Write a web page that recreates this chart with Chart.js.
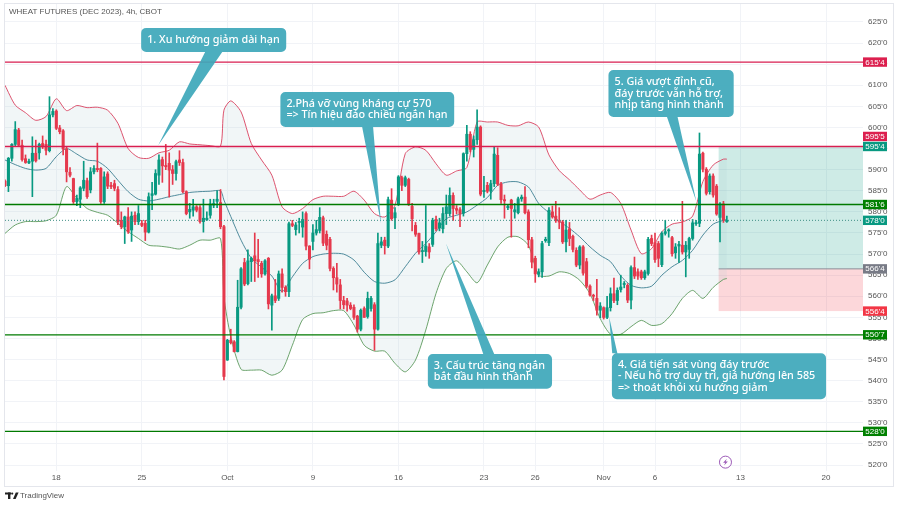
<!DOCTYPE html>
<html>
<head>
<meta charset="utf-8">
<title>Wheat futures</title>
<script src="https://cdn.jsdelivr.net/npm/chart.js@4/dist/chart.umd.min.js"></script>
<style>
  html, body { margin: 0; padding: 0; background: #fff; }
  canvas { display: block; }
</style>
</head>
<body>
<canvas id="chart" width="898" height="509"></canvas>
<script>
// 4h candles, one entry per bar
const opens = [
  587.3,586.2,592.7,596,599.4,595.8,592.6,591.6,592,593.9,
  594,596.2,596,594.5,603,603.9,599.9,599.2,594.9,589.4,
  587.9,582.4,583,585.6,587.4,585.2,589.5,590.3,590.3,582.4,
  589,586.3,586.7,585.3,578,576.5,578.8,575.7,579.2,577.7,
  577.3,577.3,575.2,583.9,584.2,588.7,592.4,591,591.5,590,
  589.1,592.3,591.7,584.8,580,580.4,581.2,581,577.7,578.1,
  579.2,581.6,582.5,582.2,576.5,544.9,549.6,549.2,546.9,557.4,
  568,563,568.2,569.6,568.7,567.8,565.3,569,557.9,560.1,
  559.5,565.3,562.1,561.1,577.2,575.8,577.5,576.4,579.6,571.9,
  573,575,575.6,578.6,574.7,573.5,566.6,564.4,562.7,559,
  558.9,557.9,557.4,555.3,552.2,557.1,555.2,557.1,558,552.2,
  572.1,573.3,571.9,582.8,578.6,581.8,588.1,586.3,587.7,581.3,
  576.8,574.9,570.6,570.6,571.7,572.3,578.2,576.2,576,579.6,
  579.6,583.9,580.8,580.5,579.7,593.8,598.4,594.8,597.1,600.1,
  584.8,586.3,584.9,586.7,593.4,586.6,582.9,581,582.8,580,
  579.8,583.1,583.5,580,573.4,569,565.2,565.8,573.2,572.7,
  580,579,577.9,577.6,572.9,576,574.2,570.9,567.4,571.7,
  568.2,562.4,560.2,559.5,556.7,557.3,555,557.3,560.6,559,
  561.6,562.8,562.6,559.1,566.8,565.8,565.8,564.4,565.4,573.7,
  572.7,572.5,567.5,574.9,575.5,573.9,570.3,571.9,572.1,570.5,
  571.1,573.7,577.2,577.3,593.9,590.1,584.8,588.5,586.1,578.7,
  581.9,577.7
];
const highs = [
  587.6,592.9,596.2,601.4,599.8,597,593.5,592.5,597.8,597,
  596.3,598,597,607.3,604.5,604.2,600.5,599.5,595.5,590.5,
  588,584,586,592,588,590.5,591,596.3,590.5,589.5,
  589.5,587,587.5,586,580,579,581,580,580,581.5,
  578,578,584.5,587,590,593.5,593,596,594,591,
  592.3,594.5,592.5,585,582,583,581.5,581.5,583,580,
  583,583,585,585.3,576.8,549.8,552.2,549.5,563.8,566.8,
  569,571,569.3,575,573.5,568.3,568.7,569.2,560.5,564,
  566,566.5,562.5,577.6,578,577.5,578.5,580,580,572,
  577,578,581,579,575.5,574,567,567.8,564,560,
  559.5,558.5,558,555.5,557,557.5,561,560,558.5,575,
  574,574,583.5,585.5,581,588.6,588.5,588.5,588,582,
  577.5,575,573,581.5,572.5,578.5,579,578.5,581,584,
  585.7,584.5,581.5,581,594,600.5,599,598,604.2,600.4,
  588.4,587,587.5,595.4,595.2,587,584,581.8,583,582,
  583.5,584,586,580.5,574,569.5,566.5,573,574,581,
  581.4,582.5,581,578,578,577.5,574.5,571.5,572,572,
  569,562.7,560.5,564,558.5,557.5,560,562,564.3,562,
  565,563.5,563,567.2,569.3,566.5,566.2,566.2,574,574.5,
  575,573,575.3,578,576,574.2,572.5,573,582.5,573,
  574,578.2,578,598.7,594.2,590.5,589,589,586.5,582.2,
  582.5,579
];
const lows = [
  586,584.8,592,595.5,595.5,592,591.5,591.4,583.6,591.8,
  592.5,595,593.5,594.2,602.5,599.5,598.5,593.5,587.1,588.3,
  582,581.5,581,585,583.2,584.5,589,589.5,582,582,
  585.5,585.5,585,577,576,572.5,574.9,573,577,577,
  576.5,573.2,575,580.5,584,586.5,587,590,583.5,586.5,
  587.5,591,584.5,579.3,578.5,579,580,577.3,575.2,578,
  578.5,581,581,576,540.2,544.8,548.7,546.8,546.8,557,
  562.5,562.7,563.5,563.5,564.5,564.5,565,557,552,558.5,
  559,561,560,559.9,576.5,574.5,575,574,571,566.5,
  571,574.5,575,572,571,566,561.5,561,557,557,
  556.5,556.8,554.5,551.5,551.8,555,554.8,556.5,547.2,552,
  571.5,570,571.5,578,576,581.5,585,586,581.5,575.5,
  574.2,570,568,569.5,569,571.8,575.5,575.5,575,577,
  579,578,579.5,576.5,579,592,594.2,593,596,583.8,
  583.4,584.5,583,586,586.2,582,578.5,580.5,574,578.5,
  579.5,582.5,579.5,571.5,566.7,563.3,564.6,564.5,572.8,572,
  578.5,577.5,576,572.5,570.5,572,570.5,567,566.5,565,
  562,560,559,555.5,554.9,554.6,554.7,556.5,558.5,558,
  561,562,558.5,557,564.2,564,564,564,565,572,
  568,567,567,574.5,574,569.5,569,568,570,564.6,
  569,573.3,576.8,576.5,589.5,584,584.2,583.5,579.2,572.9,
  577.5,577.5
];
const closes = [
  586.2,592.7,596,599.5,595.8,592.4,591.7,592,593.9,592.1,
  596,595.4,594.6,603,603.8,599.8,599,594.9,589.5,588.7,
  582.4,583.2,585.7,587.5,583.6,589.5,590.3,590,582.4,588.3,
  586.1,586,585.6,577.7,576.5,578.8,575.3,579,577.7,579.6,
  576.8,575.2,583.6,584.3,589.1,592.3,590.9,590.7,589.9,589.1,
  591.9,591.7,584.8,579.6,580.6,581.2,580.4,577.7,578.5,578.5,
  581.9,582,583,576.5,541,549.6,549,546.9,557.4,566.5,
  562.9,568.4,569,568.4,568.2,565.3,568.4,558.2,560.1,559,
  565.3,562.1,561.1,577.2,576.8,576.9,577.7,578.2,571.9,568.8,
  575,575.8,578.7,572.6,572.1,566.6,564.4,562.9,559,558,
  557.9,557.1,555,552.2,556.7,555,559.5,559.5,552.2,572.5,
  572.9,572,582.9,578.4,579.8,588.3,586.3,588.1,581.8,578.4,
  574.7,570.5,570.8,571.9,570.5,578,576,577.4,579.6,581.2,
  583.9,580.8,580.4,579.6,593.8,598.4,594.8,597.1,600.1,584.2,
  585.1,584.9,586.7,593.7,586.6,582.9,582.6,581.3,580.8,580.5,
  583.1,583.5,579.8,573.4,568.1,565.3,565.8,572.5,573.5,580.4,
  578.8,577.9,577.6,572.9,575.7,573.7,571.1,567.4,571.7,565.5,
  562.4,560.3,560,556.7,557.7,555,557.3,560.6,559,561.4,
  562.2,562.9,559.1,566.8,564.8,564.8,564.4,565.8,573.5,572.5,
  568.7,569,574.9,575.3,575.5,570.1,571.7,572.3,570.5,572.1,
  573.7,577.4,577.4,593.7,590.1,584.4,588.5,584,579.5,581.9,
  578,578
];

const bandBars = [
  0,3,6,9,12,15,18,21,24,27,30,33,36,39,42,45,48,51,54,57,60,63,64,
  66,69,72,75,78,81,84,87,90,93,96,99,102,105,108,111,114,117,120,123,
  126,129,132,135,138,141,144,147,150,153,156,159,162,165,168,171,174,
  177,180,183,186,189,192,195,198,201,204,207,210,211
];
const bandUpper = [
  610,605.3,603.5,601.7,602.6,606.8,604,605.2,604.7,604.8,604.1,601,595,592.9,592.7,594,594.6,596.6,596.1,595.9,595.7,595.6,604.1,
  606.3,603.7,596.2,592.3,588.7,581.2,579.6,580.8,582.9,583.7,583.7,583.7,584.9,582.8,579.6,578.8,581.6,593.8,595.4,594.6,
  591.4,588.7,589.7,590.5,601.3,601.3,601.3,600.5,600.4,601.3,600.1,593.5,589.8,587.6,585.2,583,584,
  584.6,582,575.7,570.1,571.3,575.3,577.1,577.6,579,587.2,591.1,592.5,592.5
];
const bandBasis = [
  592.3,591.2,590.3,589.9,590.3,593.1,595,593.7,592.3,592,590.3,587.5,584.8,583,582.6,583,583.6,584.1,584.6,584.8,584.9,585,582.8,
  578.9,573.3,569,566.9,564.8,561.1,564.6,567.8,569.4,570,570.2,570,568.6,565.7,563.5,563.1,563.9,567,570.2,572.5,
  575.3,578.4,579.2,580,581.6,583.4,586.3,587.1,587.1,585.9,582,579.8,577.8,576.1,574.1,571.7,569.7,
  568.2,564.8,562.6,562,562.4,565,567,568.5,570.9,574.5,577.1,578,578.2
];
const bandLower = [
  574.9,576.9,577.7,577.7,577.9,579.2,586,583.2,580.8,579.9,579.2,577.3,575.3,573.7,572.1,571.9,571.6,571.2,572.1,573.3,573.3,573.7,559.9,
  550.4,542.7,542.5,542.5,541.3,542.5,548.4,554.5,555.9,556.1,556.6,556.6,553.2,548.4,547,547,544.1,542.1,544.9,552,
  560.7,566.6,568.4,565.8,563.2,567.4,571.7,574,574.1,572.1,565,564.8,565.8,565.4,563.8,560.6,554.7,
  551,551,552.8,554.3,553.1,553.5,555.9,559.5,561.4,559.5,562.1,564,564.2
];

// axis labels
const dateBars = [15, 40, 65, 90, 115, 140, 155, 175, 190, 215, 240];
const dateLabels = ['18', '25', 'Oct', '9', '16', '23', '26', 'Nov', '6', '13', '20'];
const priceTicks = [520,525,530,535,540,545,550,555,560,565,570,575,580,585,590,595,600,605,610,615,620,625];

// horizontal levels drawn across the pane
const redLevels = [615.5, 595.5];
const greenLevels = [581.75, 550.875, 528];
const lastPrice = 578;

// long position tool
const positionStart = 208.6;
const positionTop = 595.5;
const positionEntry = 566.5;
const positionStop = 556.5;

// price tags on the axis
const tagValues = [615.5, 595.625, 595.5, 581.75, 578, 566.5, 556.5, 550.875, 528];
const tagLabels = ["615'4", "595'5", "595'4", "581'6", "578'0", "566'4", "556'4", "550'7", "528'0"];
const tagColors = ['#dc1f4e', '#dc1f4e', '#089981', '#008000', '#089981', '#787b86', '#f23645', '#008000', '#008000'];
const tagNudge = [0, -9.5, 0, 0, 0, 0, 0, 0, 0];

// callouts, anchored in bars / price
const callouts = [
  { x0: 39.8, x1: 82.2, top: 623.6, bottom: 617.9, base0: 58.5, base1: 63.5, tipX: 44.8, tipY: 595.8,
    lines: ['1. Xu hướng giảm dài hạn'] },
  { x0: 80.5, x1: 131.3, top: 608.4, bottom: 600.1, base0: 104.4, base1: 107.6, tipX: 109.9, tipY: 577.3,
    lines: ['2.Phá vỡ vùng kháng cự 570', '=> Tín hiệu đảo chiều ngắn hạn'] },
  { x0: 123.6, x1: 159.9, top: 546.3, bottom: 538.1, base0: 139.8, base1: 143, tipX: 128.9, tipY: 572.5, up: true,
    lines: ['3. Cấu trúc tăng ngắn', 'bắt đầu hình thành'] },
  { x0: 177.4, x1: 240, top: 546.5, bottom: 535.6, base0: 177.5, base1: 179, tipX: 176.6, tipY: 555.1, up: true,
    lines: ['4. Giá tiến sát vùng đáy trước', '- Nếu hỗ trợ duy trì, giá hướng lên 585', '=> thoát khỏi xu hướng giảm'] },
  { x0: 176.4, x1: 213, top: 613.6, bottom: 602.5, base0: 193.5, base1: 196.6, tipX: 202.1, tipY: 582.4,
    lines: ['5. Giá vượt đỉnh cũ,', 'đáy trước vẫn hỗ trợ,', 'nhịp tăng hình thành'] }
];

const UP = '#089981';
const DOWN = '#e5394d';
const barColors = closes.map((c, i) => (c >= opens[i] ? UP : DOWN));
const xMax = 250.8;

function levelLine(y, color, width, dash) {
  return {
    type: 'line',
    data: [{ x: 0, y: y }, { x: xMax, y: y }],
    borderColor: color,
    borderWidth: width,
    borderDash: dash || [],
    pointRadius: 0,
    order: 0
  };
}

function bandLine(values, color, extra) {
  return Object.assign({
    type: 'line',
    data: values.map((v, i) => ({ x: bandBars[i], y: v })),
    borderColor: color,
    borderWidth: 0.9,
    pointRadius: 0,
    tension: 0.25,
    fill: false,
    order: 5
  }, extra);
}

const paneExtras = {
  id: 'paneExtras',
  beforeDatasetsDraw(chart) {
    const { ctx, scales: { x, y }, chartArea } = chart;
    const left = x.getPixelForValue(positionStart);
    ctx.save();
    ctx.fillStyle = 'rgba(8,153,129,0.2)';
    ctx.fillRect(left, y.getPixelForValue(positionTop), chartArea.right - left, y.getPixelForValue(positionEntry) - y.getPixelForValue(positionTop));
    ctx.fillStyle = 'rgba(242,54,69,0.2)';
    ctx.fillRect(left, y.getPixelForValue(positionEntry), chartArea.right - left, y.getPixelForValue(positionStop) - y.getPixelForValue(positionEntry));
    ctx.strokeStyle = '#8a8d96';
    ctx.lineWidth = 1;
    ctx.beginPath();
    ctx.moveTo(left, y.getPixelForValue(positionEntry));
    ctx.lineTo(chartArea.right, y.getPixelForValue(positionEntry));
    ctx.stroke();
    ctx.restore();
  },
  afterDraw(chart) {
    const { ctx, scales: { x, y }, chartArea } = chart;
    ctx.save();

    // callouts
    callouts.forEach(c => {
      const bx0 = x.getPixelForValue(c.x0), bx1 = x.getPixelForValue(c.x1);
      const by0 = y.getPixelForValue(c.top), by1 = y.getPixelForValue(c.bottom);
      const r = 5;
      const edge = c.up ? by0 : by1;
      const tx = x.getPixelForValue(c.tipX), ty = y.getPixelForValue(c.tipY);
      const b0 = x.getPixelForValue(c.base0), b1 = x.getPixelForValue(c.base1);
      ctx.beginPath();
      ctx.roundRect(bx0, by0, bx1 - bx0, by1 - by0, r);
      ctx.moveTo(b0, edge);
      ctx.lineTo(tx, ty);
      ctx.lineTo(b1, edge);
      ctx.closePath();
      ctx.fillStyle = 'rgba(62,168,186,0.93)';
      ctx.fill();
      ctx.fillStyle = '#fff';
      ctx.font = '500 10.8px "Noto Sans"';
      ctx.textAlign = 'left';
      ctx.textBaseline = 'middle';
      const lh = 11.6;
      const startY = (by0 + by1) / 2 - (c.lines.length - 1) * lh / 2;
      c.lines.forEach((t, i) => ctx.fillText(t, bx0 + 6, startY + i * lh));
    });

    // axis tags
    ctx.font = '8px "Liberation Sans"';
    ctx.textAlign = 'center';
    ctx.textBaseline = 'middle';
    tagValues.forEach((v, i) => {
      const py = y.getPixelForValue(v) + tagNudge[i];
      ctx.fillStyle = tagColors[i];
      ctx.fillRect(chartArea.right, py - 4.7, 24, 9.4);
      ctx.fillStyle = '#fff';
      ctx.fillText(tagLabels[i], chartArea.right + 12, py + 0.3);
    });

    // outer frame
    ctx.strokeStyle = '#e4e6ec';
    ctx.lineWidth = 1;
    ctx.strokeRect(4.5, 3.5, 889, 483);

    // title
    ctx.fillStyle = '#555';
    ctx.font = '8px "Liberation Sans"';
    ctx.textAlign = 'left';
    ctx.fillText('WHEAT FUTURES (DEC 2023), 4h, CBOT', 9, 12);

    // logo
    ctx.fillStyle = '#222';
    ctx.fillRect(5, 492.5, 6, 2);
    ctx.fillRect(8, 492.5, 2.4, 6.5);
    ctx.beginPath();
    ctx.arc(12.2, 493.6, 1.1, 0, Math.PI * 2);
    ctx.fill();
    ctx.beginPath();
    ctx.moveTo(13, 499);
    ctx.lineTo(15.8, 492.5);
    ctx.lineTo(18.6, 492.5);
    ctx.lineTo(15.6, 499);
    ctx.closePath();
    ctx.fill();
    ctx.fillStyle = '#555';
    ctx.font = '8px "Liberation Sans"';
    ctx.fillText('TradingView', 20, 496);

    // event marker
    const ex = x.getPixelForValue(210.6), ey = y.getPixelForValue(520.7);
    ctx.strokeStyle = '#9b59b6';
    ctx.lineWidth = 1;
    ctx.fillStyle = '#fff';
    ctx.beginPath();
    ctx.arc(ex, ey, 6, 0, Math.PI * 2);
    ctx.fill();
    ctx.stroke();
    ctx.fillStyle = '#9b59b6';
    ctx.beginPath();
    ctx.moveTo(ex + 1.4, ey - 3.4);
    ctx.lineTo(ex - 2.4, ey + 0.6);
    ctx.lineTo(ex - 0.2, ey + 0.6);
    ctx.lineTo(ex - 1.4, ey + 3.4);
    ctx.lineTo(ex + 2.4, ey - 0.6);
    ctx.lineTo(ex + 0.2, ey - 0.6);
    ctx.closePath();
    ctx.fill();
    ctx.restore();
  }
};

new Chart(document.getElementById('chart'), {
  type: 'bar',
  data: {
    datasets: [
      // wicks
      {
        data: opens.map((o, i) => ({ x: i, y: [lows[i], highs[i]] })),
        backgroundColor: barColors,
        barThickness: 1,
        grouped: false,
        order: 2
      },
      // bodies
      {
        data: opens.map((o, i) => ({ x: i, y: [o, closes[i]] })),
        backgroundColor: barColors,
        barThickness: 2.4,
        minBarLength: 1,
        grouped: false,
        order: 1
      },
      bandLine(bandUpper, '#d9415f', { order: 6 }),
      bandLine(bandBasis, '#3d7f92', { order: 6 }),
      bandLine(bandLower, '#5c9a5c', { order: 7, fill: { target: 2, above: 'rgba(170,200,205,0.16)', below: 'rgba(170,200,205,0.16)' } }),
      levelLine(redLevels[0], '#d81e50', 1.4),
      levelLine(redLevels[1], '#d81e50', 1.4),
      levelLine(greenLevels[0], '#007a00', 1.3),
      levelLine(greenLevels[1], '#007a00', 1.3),
      levelLine(greenLevels[2], '#007a00', 1.3),
      levelLine(lastPrice, '#3f8f85', 1, [1, 2])
    ]
  },
  options: {
    responsive: false,
    animation: false,
    layout: { padding: { left: 5, top: 3, right: 5, bottom: 23 } },
    plugins: { legend: { display: false }, tooltip: { enabled: false } },
    scales: {
      x: {
        type: 'linear',
        offset: false,
        min: 0,
        max: xMax,
        grid: { color: '#f1f3f7', offset: false, drawTicks: false },
        border: { display: false },
        afterBuildTicks(axis) { axis.ticks = dateBars.map(v => ({ value: v })); },
        afterFit(axis) { axis.height = 15; axis.paddingLeft = 0; axis.paddingRight = 0; },
        ticks: {
          autoSkip: false,
          maxRotation: 0,
          padding: 2,
          color: '#555',
          font: { size: 8, family: '"Liberation Sans"' },
          callback: v => dateLabels[dateBars.indexOf(v)]
        }
      },
      y: {
        position: 'right',
        min: 518.6,
        max: 629.5,
        grid: { color: '#f1f3f7', drawTicks: false },
        border: { display: false },
        afterBuildTicks(axis) { axis.ticks = priceTicks.map(v => ({ value: v })); },
        afterFit(axis) { axis.width = 30; axis.paddingTop = 0; axis.paddingBottom = 0; },
        ticks: {
          padding: 5,
          color: '#555',
          font: { size: 8, family: '"Liberation Sans"' },
          callback: v => v + "'0"
        }
      }
    }
  },
  plugins: [paneExtras]
});
</script>
</body>
</html>
